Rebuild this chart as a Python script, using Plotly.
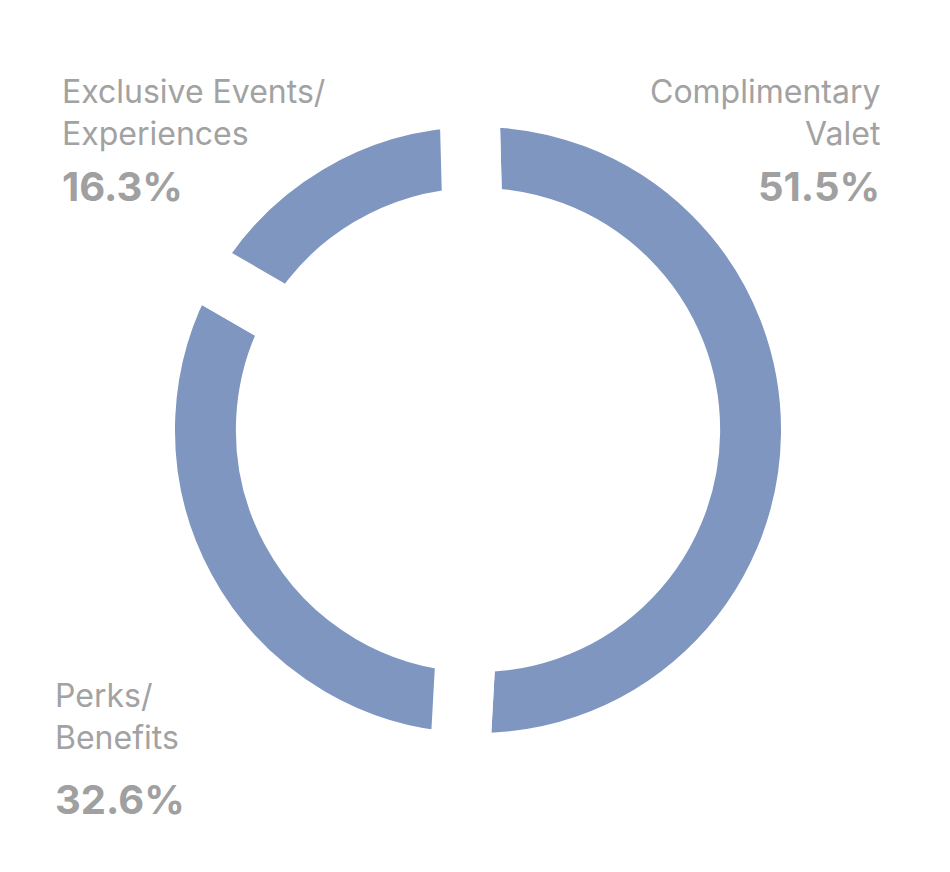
import plotly.graph_objects as go

# segments, clockwise from 12 o'clock
names = ["Complimentary Valet", "Perks/ Benefits", "Exclusive Events/ Experiences"]
shares = [51.5, 32.6, 16.3]

# label text as shown round the ring
label_lines = ["Complimentary<br>Valet", "Perks/<br>Benefits", "Exclusive Events/<br>Experiences"]
pct_text = [f"{v:.1f}%" for v in shares]

ring_color = "#7F96C0"
text_gray = "#A2A2A2"
pct_gray = "#A0A0A0"

fig = go.Figure()
fig.add_trace(go.Pie(
    labels=names,
    values=shares,
    sort=False,
    direction="clockwise",
    rotation=-1.5,
    hole=0.637,
    marker=dict(colors=[ring_color] * 3, line=dict(color="white", width=60)),
    textinfo="none",
    hoverinfo="label+percent",
    showlegend=False,
    domain=dict(x=[0.1442, 0.8453], y=[0.1342, 0.8980]),
))

# label placement (paper coords): x, y of name block, y of percentage, alignment
spots = [
    (0.920, 0.929, 0.826, "right"),
    (0.047, 0.236, 0.123, "left"),
    (0.055, 0.929, 0.826, "left"),
]
for (x, y_name, y_pct, align), txt, pct in zip(spots, label_lines, pct_text):
    fig.add_annotation(
        x=x, y=y_name, xref="paper", yref="paper",
        xanchor=align, yanchor="top", align=align, showarrow=False,
        text=txt, font=dict(family="Inter", size=32, color=text_gray),
    )
    fig.add_annotation(
        x=x, y=y_pct, xref="paper", yref="paper",
        xanchor=align, yanchor="top", align=align, showarrow=False,
        text=f"<b>{pct}</b>", font=dict(family="Inter", size=40, color=pct_gray),
    )

fig.update_layout(
    width=950, height=872,
    margin=dict(l=0, r=0, t=0, b=0),
    paper_bgcolor="white", plot_bgcolor="white",
)

fig.write_html("out.html")
